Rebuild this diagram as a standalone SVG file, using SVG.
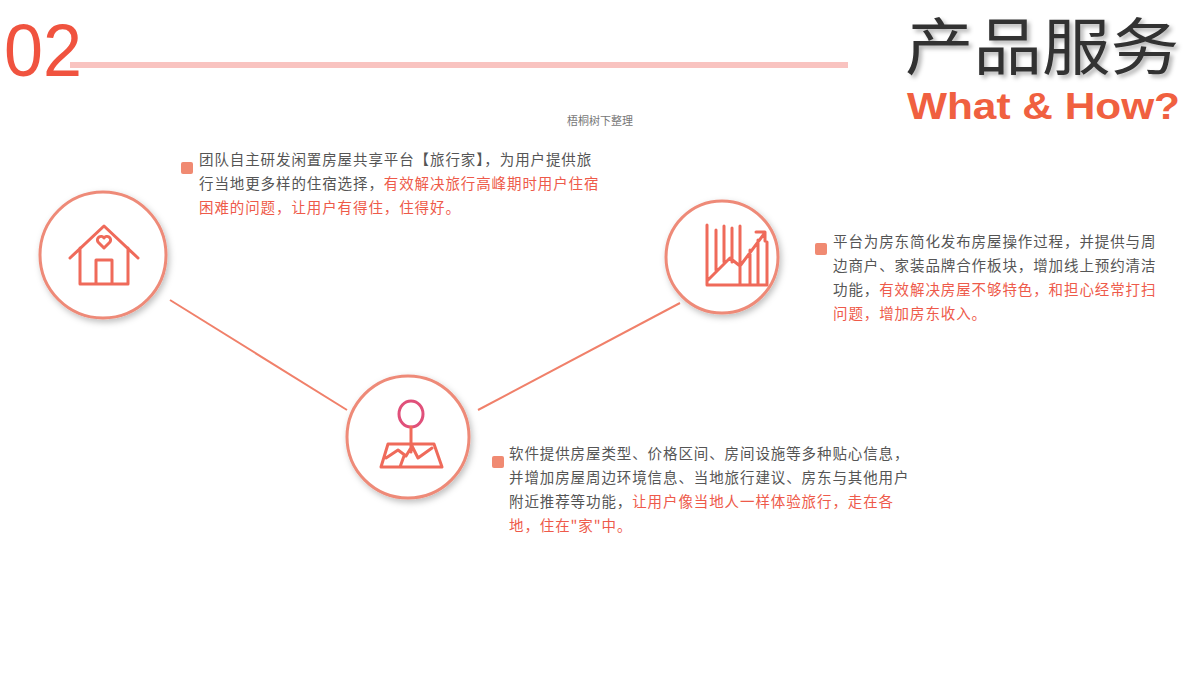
<svg xmlns="http://www.w3.org/2000/svg" width="1200" height="673" viewBox="0 0 1200 673">
<defs>
<style>
.t{font-family:"Noto Sans CJK SC","Liberation Sans",sans-serif;font-size:14.5px;letter-spacing:0.9px;fill:#555}
.r{fill:#ee5a4a}
.circ{fill:#fff;stroke:#ee8a78;stroke-width:3}
.ic{fill:none;stroke:#ef6a5a;stroke-width:3;stroke-linejoin:round;stroke-linecap:round}
.bul{fill:#f08a72}
</style>
<filter id="sh" x="-30%" y="-30%" width="160%" height="160%"><feDropShadow dx="2" dy="3" stdDeviation="3" flood-color="#000" flood-opacity="0.25"/></filter>
<filter id="ts" x="-5%" y="-10%" width="110%" height="130%"><feDropShadow dx="3" dy="3" stdDeviation="2" flood-color="#000" flood-opacity="0.3"/></filter>
</defs>
<rect width="1200" height="673" fill="#fff"/>
<g id="header">
<text x="4" y="76" font-family="Liberation Sans,sans-serif" font-size="74" fill="#f0533f" textLength="78" lengthAdjust="spacingAndGlyphs">02</text>
<rect x="70" y="62" width="778" height="6" fill="#f9c3c0"/>
<text x="905" y="70" font-family="Noto Sans CJK SC,sans-serif" font-size="62" fill="#333" filter="url(#ts)" textLength="274" lengthAdjust="spacingAndGlyphs">产品服务</text>
<text x="907" y="119" font-family="Liberation Sans,sans-serif" font-weight="bold" font-size="37" fill="#f06040" textLength="273" lengthAdjust="spacingAndGlyphs">What &amp; How?</text>
<text x="600" y="125" text-anchor="middle" font-family="Noto Sans CJK SC,sans-serif" font-size="11" fill="#777">梧桐树下整理</text>
</g>
<g id="connectors" stroke="#f0806a" stroke-width="2">
<line x1="170" y1="300" x2="347" y2="410"/>
<line x1="478" y1="410" x2="680" y2="303"/>
</g>
<g id="node-home">
<circle class="circ" cx="103" cy="255" r="63" filter="url(#sh)"/>
<path class="ic" d="M70 258 L104 226 L138 258 M80 248 V284 H128 V248 M96 284 V260 H112 V284"/>
<path class="ic" stroke-width="2" d="M104 248 L98 242 A3 3 0 0 1 104 238 A3 3 0 0 1 110 242 Z"/>
</g>
<g id="node-chart">
<circle class="circ" cx="722" cy="257" r="56" filter="url(#sh)"/>
<path class="ic" d="M707 225 V285 H767 V242 M716 230 V270 M724 226 V262 M732 228 V262 M740 226 V285 M750 250 V285 M758 240 V285 M708 280 L730 258 L740 266 L764 234 M756 232 H765 V241"/>
</g>
<g id="node-map">
<circle class="circ" cx="408" cy="437" r="61" filter="url(#sh)"/>
<ellipse cx="411" cy="414" rx="12" ry="13" fill="none" stroke="#e0507a" stroke-width="3"/>
<path class="ic" d="M411 427 V452 M388 444 H434 L442 467 H381 Z M386 458 L398 450 L406 456 L412 446 L418 458 L432 448 M400 467 L404 456"/>
</g>
<g id="text-1">
<rect class="bul" x="181" y="162" width="12" height="12" rx="2"/>
<text class="t" x="199" y="165">团队自主研发闲置房屋共享平台【旅行家】，为用户提供旅</text>
<text class="t" x="199" y="189">行当地更多样的住宿选择，<tspan class="r">有效解决旅行高峰期时用户住宿</tspan></text>
<text class="t r" x="199" y="213">困难的问题，让用户有得住，住得好。</text>
</g>
<g id="text-2">
<rect class="bul" x="815" y="243" width="12" height="12" rx="2"/>
<text class="t" x="833" y="247">平台为房东简化发布房屋操作过程，并提供与周</text>
<text class="t" x="833" y="271">边商户、家装品牌合作板块，增加线上预约清洁</text>
<text class="t" x="833" y="295">功能，<tspan class="r">有效解决房屋不够特色，和担心经常打扫</tspan></text>
<text class="t r" x="833" y="319">问题，增加房东收入。</text>
</g>
<g id="text-3">
<rect class="bul" x="492" y="456" width="12" height="12" rx="2"/>
<text class="t" x="509" y="459">软件提供房屋类型、价格区间、房间设施等多种贴心信息，</text>
<text class="t" x="509" y="483">并增加房屋周边环境信息、当地旅行建议、房东与其他用户</text>
<text class="t" x="509" y="507">附近推荐等功能，<tspan class="r">让用户像当地人一样体验旅行，走在各</tspan></text>
<text class="t r" x="509" y="531">地，住在"家"中。</text>
</g>
</svg>
